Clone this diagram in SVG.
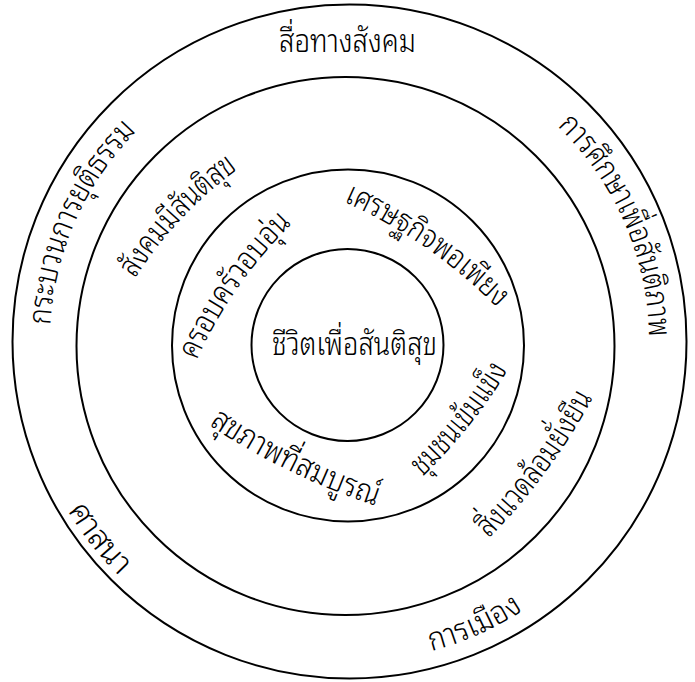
<svg xmlns="http://www.w3.org/2000/svg" width="695" height="682" viewBox="0 0 695 682">
<style>
.ring{fill:none;stroke:#000;stroke-width:2}
.t{font-family:"Noto Sans Thai Looped","Noto Sans Thai","Loma","Garuda","Norasi","Noto Sans","DejaVu Sans",sans-serif;font-size:32px;font-weight:300;fill:#000}
</style>
<defs>
<path id="p2" d="M 90.1 491.5 A 299 299 0 0 1 286.8 49.5"/>
<path id="p9" d="M 413.9 49.1 A 300 300 0 0 1 607.5 494.3"/>
<path id="p3" d="M 134.8 279.1 A 400 400 0 0 1 238.4 168.9"/>
<path id="p4" d="M 343.1 201.4 A 500 500 0 0 1 497.7 308.4"/>
<path id="p5" d="M 196.4 360.8 A 450 450 0 0 1 292.4 223.4"/>
<path id="p7" d="M 209 425 A 700 700 0 0 0 376 506"/>
<path id="p8" d="M 422.2 476.8 A 500 500 0 0 0 508 369.8"/>
<path id="p10" d="M 488.6 538.6 A 600 600 0 0 0 593 397.4"/>
<path id="p11" d="M 66.4 508.5 A 328 328 0 0 0 121.2 578"/>
<path id="p12" d="M 431.3 651.2 A 320 320 0 0 0 523.3 610.4"/>
</defs>
<rect width="695" height="682" fill="#fff"/>
<g id="rings">
<circle id="ring-outer" class="ring" cx="349.5" cy="341.5" r="337"/>
<circle id="ring-2" class="ring" cx="345.5" cy="346" r="269"/>
<circle id="ring-3" class="ring" cx="348" cy="345.5" r="176"/>
<circle id="ring-inner" class="ring" cx="347.5" cy="345" r="96"/>
</g>
<g id="connectors"></g>
<g id="label-social-media"><text class="t" x="347.5" y="52" text-anchor="middle" textLength="137" lengthAdjust="spacingAndGlyphs">สื่อทางสังคม</text></g>
<g id="label-justice"><text class="t"><textPath href="#p2" startOffset="50%" text-anchor="middle" textLength="217" lengthAdjust="spacingAndGlyphs">กระบวนการยุติธรรม</textPath></text></g>
<g id="label-peace-education"><text class="t"><textPath href="#p9" startOffset="50%" text-anchor="middle" textLength="236" lengthAdjust="spacingAndGlyphs">การศึกษาเพื่อสันติภาพ</textPath></text></g>
<g id="label-peaceful-society"><text class="t"><textPath href="#p3" startOffset="50%" text-anchor="middle" textLength="151" lengthAdjust="spacingAndGlyphs">สังคมมีสันติสุข</textPath></text></g>
<g id="label-sufficiency"><text class="t"><textPath href="#p4" startOffset="50%" text-anchor="middle" textLength="188" lengthAdjust="spacingAndGlyphs">เศรษฐกิจพอเพียง</textPath></text></g>
<g id="label-family"><text class="t"><textPath href="#p5" startOffset="50%" text-anchor="middle" textLength="168" lengthAdjust="spacingAndGlyphs">ครอบครัวอบอุ่น</textPath></text></g>
<g id="label-center"><text class="t" x="354.5" y="355" text-anchor="middle" textLength="165" lengthAdjust="spacingAndGlyphs">ชีวิตเพื่อสันติสุข</text></g>
<g id="label-health"><text class="t"><textPath href="#p7" startOffset="50%" text-anchor="middle" textLength="186" lengthAdjust="spacingAndGlyphs">สุขภาพที่สมบูรณ์</textPath></text></g>
<g id="label-community"><text class="t"><textPath href="#p8" startOffset="50%" text-anchor="middle" textLength="137" lengthAdjust="spacingAndGlyphs">ชุมชนเข้มแข็ง</textPath></text></g>
<g id="label-environment"><text class="t"><textPath href="#p10" startOffset="50%" text-anchor="middle" textLength="176" lengthAdjust="spacingAndGlyphs">สิ่งแวดล้อมยั่งยืน</textPath></text></g>
<g id="label-religion"><text class="t"><textPath href="#p11" startOffset="50%" text-anchor="middle" textLength="84" lengthAdjust="spacingAndGlyphs">ศาสนา</textPath></text></g>
<g id="label-politics"><text class="t"><textPath href="#p12" startOffset="50%" text-anchor="middle" textLength="101" lengthAdjust="spacingAndGlyphs">การเมือง</textPath></text></g>
</svg>
